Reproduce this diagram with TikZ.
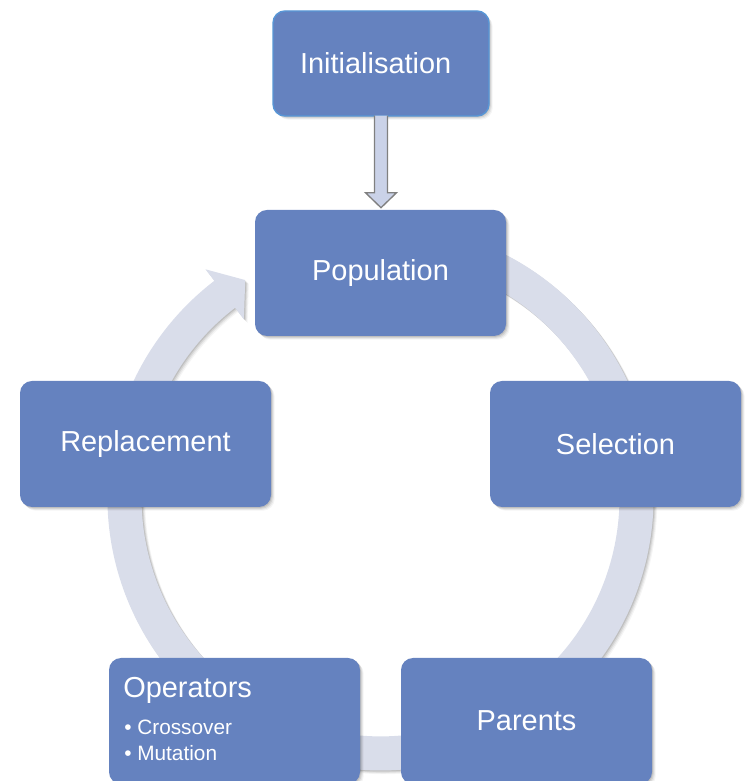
\documentclass[tikz,border=0pt]{standalone}
\usepackage{fontspec}
\setmainfont{Liberation Sans}
\usetikzlibrary{calc,shadows}

\definecolor{boxblue}{RGB}{101,130,191}
\definecolor{ringgray}{RGB}{217,221,234}
\definecolor{initedge}{RGB}{88,150,214}
\definecolor{arrowfill}{RGB}{202,210,232}
\definecolor{arrowedge}{RGB}{128,128,128}

\begin{document}
\begin{tikzpicture}[x=0.75pt,y=0.75pt,
  % layered offset copies give a soft shadow down and to the right
  softshadow/.style={
      drop shadow={shadow xshift=0.7pt, shadow yshift=-0.7pt, opacity=0.10, fill=black},
      drop shadow={shadow xshift=1.4pt, shadow yshift=-1.4pt, opacity=0.08, fill=black},
      drop shadow={shadow xshift=2.1pt, shadow yshift=-2.1pt, opacity=0.06, fill=black},
      drop shadow={shadow xshift=2.8pt, shadow yshift=-2.8pt, opacity=0.04, fill=black}},
  stage/.style={fill=boxblue, rounded corners=9pt, minimum width=188.25pt,
      minimum height=94.5pt, inner sep=0pt, text=white,
      font=\fontsize{21.7}{26}\selectfont, softshadow},
  startbox/.style={stage, draw=initedge, line width=1.1pt,
      minimum width=162pt, minimum height=78.75pt},
  cyclering/.style={fill=ringgray, softshadow},
  blockarrow/.style={fill=arrowfill, draw=arrowedge, line width=1pt, line join=miter},
  title/.style={text=white, inner sep=0pt, anchor=base west,
      font=\fontsize{21.7}{26}\selectfont},
  item/.style={text=white, inner sep=0pt, anchor=base west,
      font=\fontsize{15.6}{18.75}\selectfont}]

\useasboundingbox (0,0) rectangle (748,781);

% circular flow band with its arrowhead, behind the stages
\begin{scope}[shift={(380.5,283.6)}]
  \path[cyclering]
    (75:273) arc[start angle=75, end angle=-232.5, radius=273]
    -- (-232.5:287.5) -- (-238.1:256) -- (-232.5:224.5)
    -- (-232.5:239) arc[start angle=-232.5, end angle=75, radius=239]
    -- cycle;
\end{scope}

% stages of the cycle
\node[stage] (pop) at (380.5,508) {Population};
\node[stage] (sel) at (615.5,337) {Selection};
\node[stage] (par) at (526.5,60) {Parents};
\node[stage] (ops) at (234.5,60) {};
\node[stage] (rep) at (145.5,337) {Replacement};

% operators box contents
\node[title] (opsTitle) at (123,83) {Operators};
\node[item] (opsCross) at (124,46) {\textbullet\ Crossover};
\node[item] (opsMut) at (124,21) {\textbullet\ Mutation};

% initial step feeding the population
\node[startbox] (init) at (381,717.5) {\hspace*{-8pt}Initialisation};

\draw[blockarrow]
  ($(init.south)+(-6.5,1)$) -- ($(init.south|-pop.north)+(-6.5,17)$)
  -- ($(init.south|-pop.north)+(-15.5,17)$) -- ($(init.south|-pop.north)+(0,2)$)
  -- ($(init.south|-pop.north)+(15.5,17)$) -- ($(init.south|-pop.north)+(6.5,17)$)
  -- ($(init.south)+(6.5,1)$);

\end{tikzpicture}
\end{document}
